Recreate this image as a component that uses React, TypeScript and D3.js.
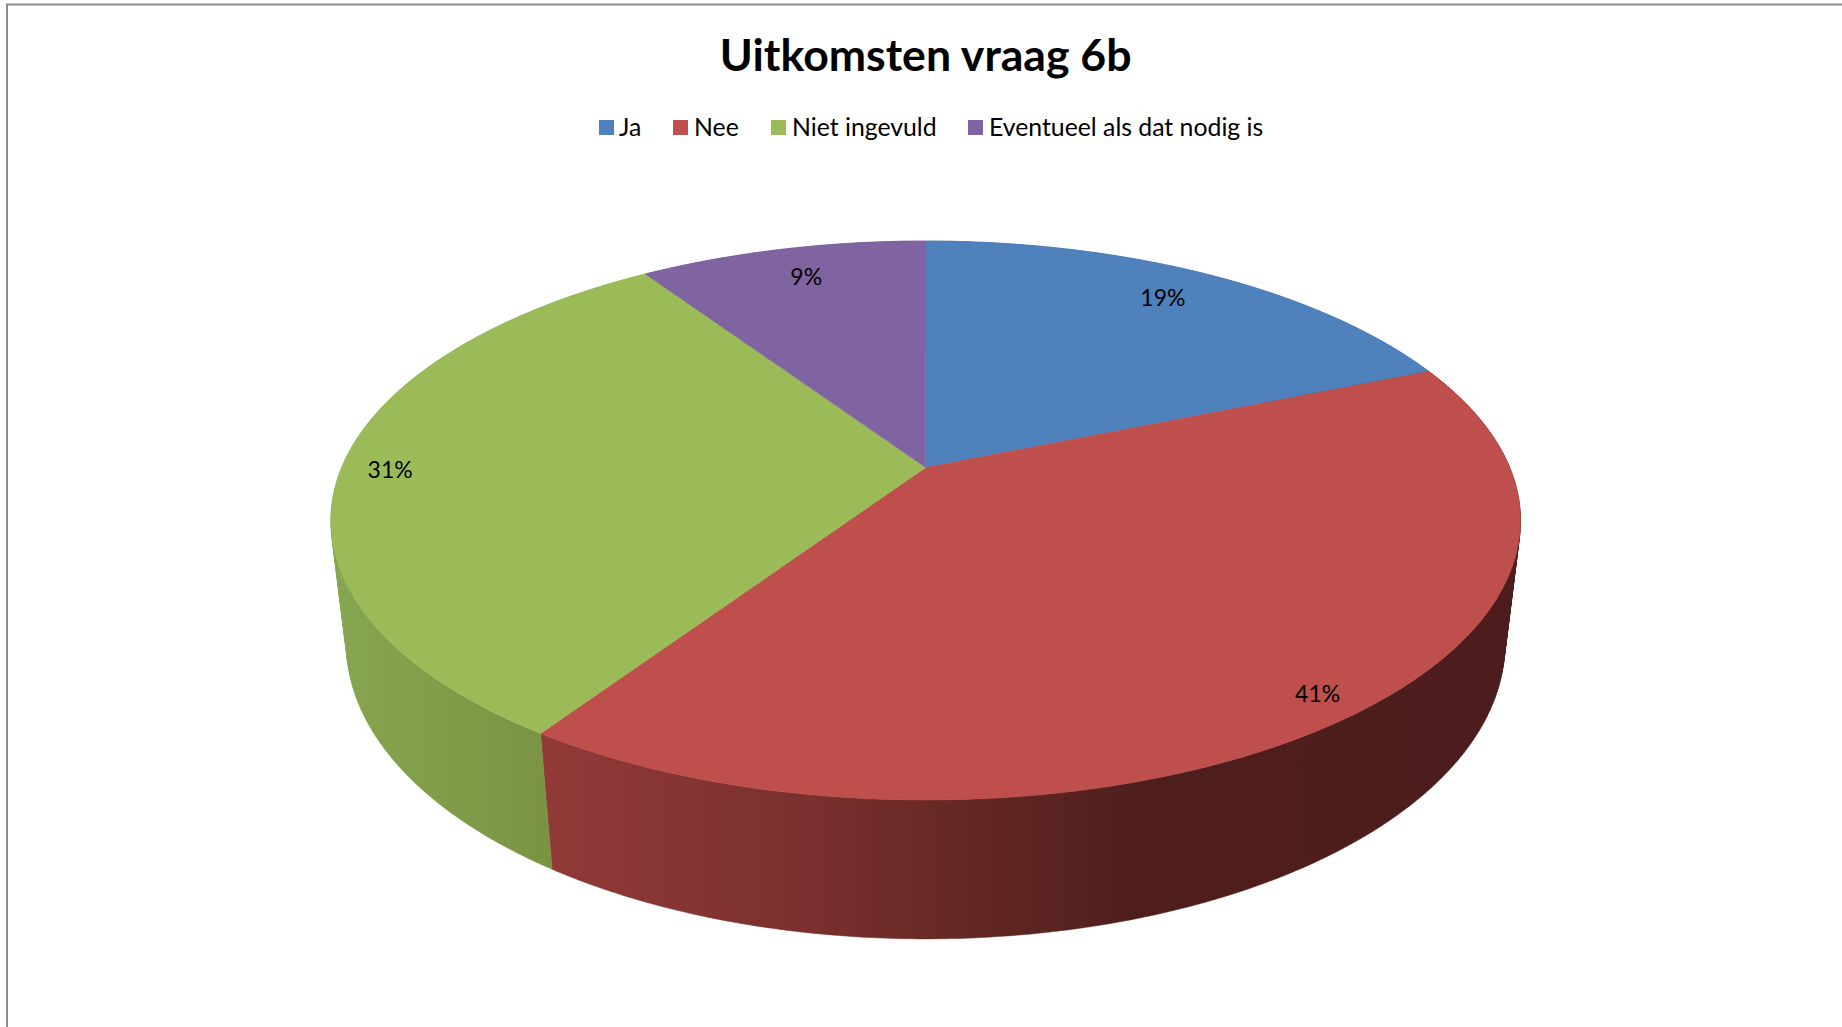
import React from "react";
import * as d3 from "d3";

const title = "Uitkomsten vraag 6b";
const categories = ["Ja", "Nee", "Niet ingevuld", "Eventueel als dat nodig is"];
const counts = [6, 13, 10, 3];
const percentLabels = ["19%", "41%", "31%", "9%"];
const topColors = ["#4f81bd", "#be4f4c", "#9bbb59", "#8064a2"];

const labelRadii = [0.85, 0.93, 0.917, 0.855];
const labelShiftX = [-6, -7, 0, 6];
const labelShiftY = [-2, 2, 2, 0];
const legendSwatchX = [599, 673, 771, 968];
const legendTextX = [619, 694, 792, 989];

const CX = 925.7, CY = 467.5, K = 584, A = 180.8, C = -0.1896;
const DEPTH_Y = 137, DEPTH_W = 0.026;

// Perspective projection of a unit disc: h = 0 is the top face, h = 1 the bottom face
function project(angle: number, r: number, h: number): [number, number] {
  const u = r * Math.sin(angle);
  const v = -r * Math.cos(angle);
  const w = 1 + C * v + DEPTH_W * h;
  return [CX + (K * u) / w, (A * v + CY + DEPTH_Y * h) / w];
}

const pieGen = d3.pie<number>().sort(null).startAngle(0).endAngle(2 * Math.PI);
const arcs = pieGen(counts);
const line = d3.line();

function rim(a0: number, a1: number, h: number): [number, number][] {
  const n = Math.max(2, Math.ceil((a1 - a0) / 0.01));
  return d3.range(n + 1).map((i) => project(a0 + ((a1 - a0) * i) / n, 1, h));
}

// The wall folds over itself at the silhouette, so it is built of small quads that all wind the same way
function wallPath(a0: number, a1: number): string {
  const top = rim(a0, a1, 0);
  const bottom = rim(a0, a1, 1);
  let d = "";
  for (let i = 0; i < top.length - 1; i++) {
    const quad: [number, number][] = [top[i], top[i + 1], bottom[i + 1], bottom[i]];
    if (d3.polygonArea(quad) < 0) quad.reverse();
    d += line(quad) + "Z";
  }
  return d;
}

const wallFill = ["#3f5f8a", "url(#redWall)", "url(#greenWall)", "#5e4a78"];

export default function App() {
  return (
    <svg
      width={1842}
      height={1027}
      style={{ position: "fixed", left: 0, top: 0, background: "#fff" }}
      fontFamily="Lato, Carlito, sans-serif"
    >
      <defs>
        <linearGradient id="redWall" gradientUnits="userSpaceOnUse" x1={540} y1={0} x2={1505} y2={0}>
          <stop offset="0" stopColor="#913a38" />
          <stop offset="0.27" stopColor="#7b302e" />
          <stop offset="0.42" stopColor="#672925" />
          <stop offset="0.62" stopColor="#4f1e1c" />
          <stop offset="1" stopColor="#4c1d1c" />
        </linearGradient>
        <linearGradient id="greenWall" gradientUnits="userSpaceOnUse" x1={335} y1={0} x2={552} y2={0}>
          <stop offset="0" stopColor="#87a651" />
          <stop offset="1" stopColor="#799342" />
        </linearGradient>
      </defs>
      <path d="M7,1027V4.5H1842" fill="none" stroke="#8c8c8c" strokeWidth={2} />
      <text x={925.7} y={71} textAnchor="middle" fontSize={44.6} fontWeight={700} fill="#000">
        {title}
      </text>
      {categories.map((c, i) => (
        <g key={c}>
          <rect x={legendSwatchX[i]} y={120} width={15} height={15} fill={topColors[i]} />
          <text x={legendTextX[i]} y={136} fontSize={24.8} fill="#000">
            {c}
          </text>
        </g>
      ))}
      {arcs.map((a, i) => (
        <path
          key={"w" + i}
          d={wallPath(a.startAngle, a.endAngle)}
          fill={wallFill[i]}
          stroke={wallFill[i]}
          strokeWidth={0.5}
        />
      ))}
      {arcs.map((a, i) => {
        const pts: [number, number][] = [project(0, 0, 0), ...rim(a.startAngle, a.endAngle, 0)];
        return <path key={"t" + i} d={line(pts) + "Z"} fill={topColors[i]} stroke={topColors[i]} strokeWidth={0.5} />;
      })}
      {arcs.map((a, i) => {
        const [x, y] = project((a.startAngle + a.endAngle) / 2, labelRadii[i], 0);
        return (
          <text
            key={"l" + i}
            x={x + labelShiftX[i]}
            y={y + labelShiftY[i]}
            dy="0.35em"
            textAnchor="middle"
            fontSize={23}
            fill="#000"
          >
            {percentLabels[i]}
          </text>
        );
      })}
    </svg>
  );
}
